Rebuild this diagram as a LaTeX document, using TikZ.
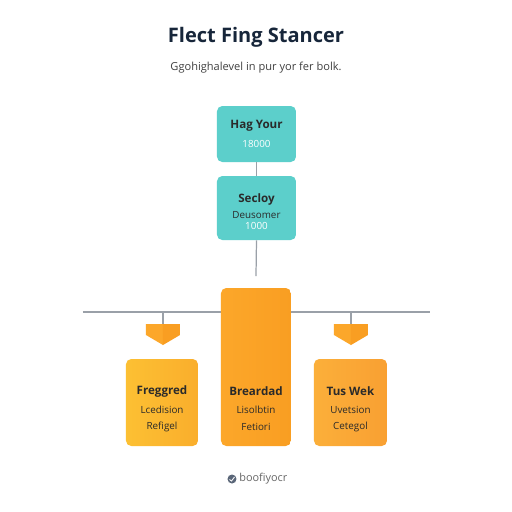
\documentclass[tikz,border=0pt]{standalone}
\usepackage{fontspec}
\setmainfont{Open Sans}
\definecolor{teal1}{HTML}{5CCFCB}
\definecolor{navy}{HTML}{17263A}
\definecolor{lineg}{HTML}{9AA0A8}
\definecolor{orA}{HTML}{FCA72A}
\definecolor{orB}{HTML}{F99E22}
\definecolor{yelA}{HTML}{FCC033}
\definecolor{yelB}{HTML}{FAAE2C}
\definecolor{rgtA}{HTML}{FBAF3A}
\definecolor{rgtB}{HTML}{F9A032}
\definecolor{txtd}{HTML}{2A2A2A}
\definecolor{iconc}{HTML}{5A6678}
\begin{document}
\begin{tikzpicture}[x=0.02cm,y=-0.02cm,
  tbox/.style={draw=none,fill=teal1,rounded corners=3pt,minimum width=79*0.02cm,inner sep=0},
  obox/.style={draw=none,rounded corners=3pt,inner sep=0},
  conn/.style={draw=lineg,line width=0.7pt},
  btitle/.style={font=\fontsize{6.6}{7}\selectfont\bfseries,text=txtd,inner sep=0},
  bsub/.style={font=\fontsize{5.6}{6}\selectfont,text=txtd,inner sep=0},
  wsub/.style={font=\fontsize{5.6}{6}\selectfont,text=white,inner sep=0}
]
\useasboundingbox (0,0) rectangle (512,512);
\fill[white] (0,0) rectangle (512,512);
% title
\node[font=\fontsize{11.4}{13}\selectfont\bfseries,text=navy,inner sep=0] (title) at (256,37) {Flect Fing Stancer};
\node[font=\fontsize{6.3}{8}\selectfont,text=black!75,inner sep=0] (subtitle) at (256,68) {Ggohighalevel in pur yor fer bolk.};
% teal boxes
\node[tbox,minimum height=56*0.02cm] (b1) at (256.5,134) {};
\node[btitle] (b1t) at (256.5,126) {Hag Your};
\node[wsub] (b1s) at (256.5,144) {18000};
\node[tbox,minimum height=64*0.02cm] (b2) at (256.5,208) {};
\node[btitle] (b2t) at (256.5,199) {Secloy};
\node[bsub] (b2s) at (256.5,215) {Deusomer};
\node[wsub] (b2v) at (256.5,226) {1000};
\draw[conn] (b1.south) -- (b2.north);
\coordinate (vend) at (256,276);
\draw[conn] (b2.south) -- (vend);
% horizontal line
\coordinate (hl) at (83,312);
\coordinate (hr) at (430,312);
\draw[conn] (hl) -- (hr);
% stubs and pentagons
\coordinate (sl) at (163,312);
\coordinate (pl) at (163,324);
\coordinate (sr) at (351,312);
\coordinate (pr) at (351,324);
\draw[conn] (sl) -- (pl);
\draw[conn] (sr) -- (pr);
\fill[orA] (146,324) -- (163,324) -- (163,345) -- (146,335) -- cycle;
\fill[orB] (163,324) -- (180,324) -- (180,335) -- (163,345) -- cycle;
\fill[orA] (334,324) -- (351,324) -- (351,345) -- (334,335) -- cycle;
\fill[orB] (351,324) -- (368,324) -- (368,335) -- (351,345) -- cycle;
% orange boxes
\node[obox,left color=orA,right color=orB,minimum width=70*0.02cm,minimum height=158*0.02cm] (bc) at (256,367) {};
\node[obox,left color=yelA,right color=yelB,minimum width=72*0.02cm,minimum height=87*0.02cm] (bl) at (162,402.5) {};
\node[obox,left color=rgtA,right color=rgtB,minimum width=73*0.02cm,minimum height=87*0.02cm] (br) at (350.5,402.5) {};
\node[btitle] (blt) at (162,391) {Freggred};
\node[bsub] (bls1) at (162,410) {Lcedision};
\node[bsub] (bls2) at (162,427) {Refigel};
\node[btitle] (bct) at (256,391) {Breardad};
\node[bsub] (bcs1) at (256,410) {Lisolbtin};
\node[bsub] (bcs2) at (256,427) {Fetiori};
\node[btitle] (brt) at (350.5,391) {Tus Wek};
\node[bsub] (brs1) at (350.5,410) {Uvetsion};
\node[bsub] (brs2) at (350.5,427) {Cetegol};
% footer
\node[circle,fill=iconc,minimum size=9*0.02cm,inner sep=0] (icon) at (232,479) {};
\draw[white,line width=0.5pt] (229.5,479.5) -- (231.5,481) -- (234.5,477);
\node[font=\fontsize{6.2}{7}\selectfont,text=black!60,anchor=west,inner sep=0] (foot) at (239,479) {boofiyocr};
\end{tikzpicture}
\end{document}
